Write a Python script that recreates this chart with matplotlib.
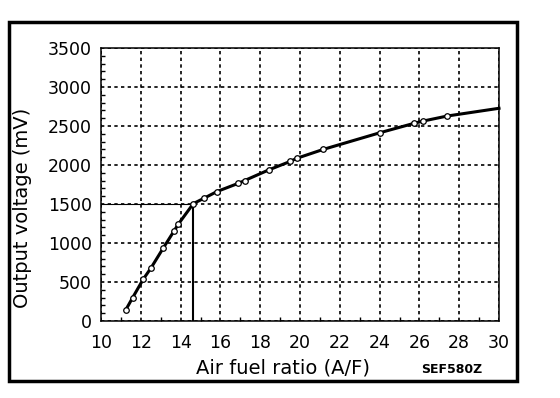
import matplotlib
matplotlib.use("Agg")
import matplotlib.pyplot as plt
from matplotlib.patches import Rectangle
from matplotlib.ticker import MultipleLocator

plt.rcParams['font.family'] = ['DejaVu Sans']

# Data (air fuel ratio vs output voltage in mV)
afr = [11.25, 11.59, 12.12, 12.50, 13.12, 13.68, 13.88, 14.64, 15.17, 15.83,
       16.90, 17.22, 18.42, 19.50, 19.84, 21.17, 24.02, 25.74, 26.20, 27.40, 30.0]
voltage = [145, 299, 535, 675, 932, 1158, 1240, 1505, 1573, 1660,
           1765, 1801, 1936, 2045, 2086, 2200, 2414, 2535, 2564, 2628, 2727]
stoich_afr = 14.64
stoich_mv = 1500

x_ticks = [10, 12, 14, 16, 18, 20, 22, 24, 26, 28, 30]
y_ticks = [0, 500, 1000, 1500, 2000, 2500, 3000, 3500]

W, H = 560, 398
fig = plt.figure(figsize=(W / 100, H / 100), dpi=100)
fig.patch.set_facecolor('white')

# axes placement in pixels
L, R, T, B = 101, 499, 48, 321
ax = fig.add_axes([L / W, (H - B) / H, (R - L) / W, (B - T) / H])
ax.set_xlim(10, 30)
ax.set_ylim(0, 3500)
ax.set_xticks(x_ticks)
ax.set_yticks(y_ticks)
ax.xaxis.set_minor_locator(MultipleLocator(1))
ax.yaxis.set_minor_locator(MultipleLocator(100))

ax.tick_params(axis='both', which='major', direction='in', length=0,
               labelsize=12.5, colors='black')
ax.tick_params(axis='x', which='major', pad=9.2)
ax.tick_params(axis='y', which='major', pad=6.5)
ax.tick_params(axis='both', which='minor', direction='in', length=3, width=1.0)
ax.tick_params(top=False, right=False, which='both')

for s in ax.spines.values():
    s.set_linewidth(1.1)
    s.set_color('black')

ax.grid(True, which='major', color='black', linestyle=(0, (2, 2)), linewidth=1.2)
ax.set_axisbelow(True)

# reference lines at stoichiometric point
ax.plot([10, stoich_afr], [stoich_mv, stoich_mv], color='black', lw=0.8, zorder=3)
ax.plot([stoich_afr, stoich_afr], [0, stoich_mv], color='black', lw=1.5, zorder=3)

# main curve
ax.plot(afr, voltage, color='black', lw=2.2, marker='o', markersize=4,
        markerfacecolor='white', markeredgecolor='black', markeredgewidth=0.9,
        markevery=slice(0, len(afr) - 1), zorder=4, clip_on=False)

# labels
fig.text(23 / W, 1 - 207.5 / H, 'Output voltage (mV)', rotation=90,
         ha='center', va='center', fontsize=14)
fig.text(283 / W, (H - 373) / H, 'Air fuel ratio (A/F)', ha='center',
         va='baseline', fontsize=14)
fig.text(451.5 / W, (H - 373.3) / H, 'SEF580Z', ha='center', va='baseline',
         fontsize=9, fontweight='bold')

# outer frame
frame = Rectangle((8.5 / W, (H - 381) / H), (517 - 8.5) / W, (381 - 21.5) / H,
                  transform=fig.transFigure, fill=False, edgecolor='black',
                  linewidth=2.5)
fig.patches.append(frame)

fig.savefig('out.png', dpi=100)
